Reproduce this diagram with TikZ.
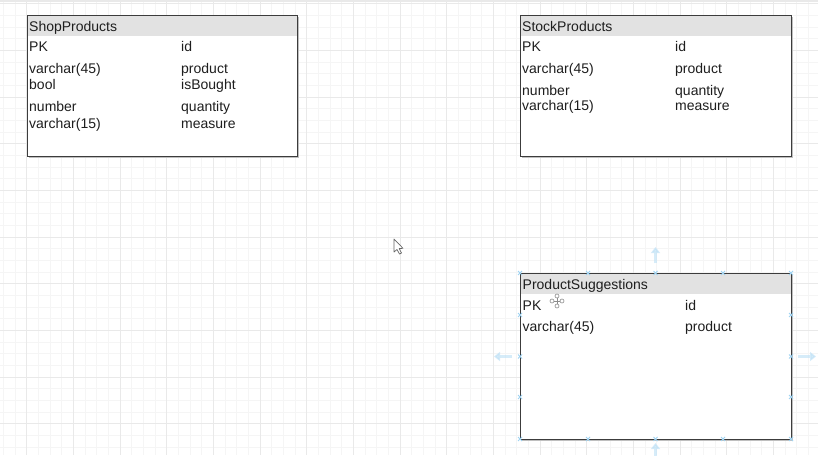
\documentclass[tikz,border=0pt]{standalone}
\usepackage{fontspec}
\setmainfont{Liberation Sans}
\usetikzlibrary{arrows.meta}
\definecolor{gridminor}{HTML}{F5F5F5}
\definecolor{gridmajor}{HTML}{E9E9E9}
\definecolor{hdr}{HTML}{E2E2E2}
\definecolor{frame}{HTML}{3C3C3C}
\definecolor{ink}{HTML}{1E1E1E}
\definecolor{selblue}{HTML}{9FD3F2}
\tikzset{
  txt/.style={anchor=base west, inner sep=0pt, text=ink, font=\fontsize{14}{16}\selectfont},
  tablebox/.style={draw=frame, line width=1.3pt, anchor=north west, inner sep=0pt, minimum width=#1},
  headband/.style={fill=hdr, draw=none},
  handle/.style={draw=selblue, line width=0.9pt},
  selarrow/.style={draw=selblue!70, line width=3pt, -{Triangle[length=6pt,width=9pt]}, opacity=0.6}
}
\begin{document}
\begin{tikzpicture}[x=1pt,y=-1pt]
\useasboundingbox (0,0) rectangle (818,455);
\fill[white] (0,0) rectangle (818,455);
% grid
\foreach \k in {0,...,70} {
  \pgfmathsetmacro{\gx}{3.33+11.667*\k}
  \draw[gridminor, line width=0.8pt] (\gx,0) -- (\gx,455);
}
\foreach \k in {0,...,39} {
  \pgfmathsetmacro{\gy}{3.7+11.667*\k}
  \draw[gridminor, line width=0.8pt] (0,\gy) -- (818,\gy);
}
\foreach \k in {0,...,17} {
  \pgfmathsetmacro{\gx}{26.67+46.67*\k-46.67}
  \draw[gridmajor, line width=0.9pt] (\gx,0) -- (\gx,455);
}
\foreach \k in {0,...,9} {
  \pgfmathsetmacro{\gy}{3.7+46.67*\k}
  \draw[gridmajor, line width=0.9pt] (0,\gy) -- (818,\gy);
}
\fill[gridmajor] (0,0) rectangle (818,2);

% ShopProducts
\fill[black!25] (28.5,16.5) rectangle (298.5,157.5);
\fill[white] (27,15) rectangle (297,156);
\fill[headband] (27,15) rectangle (297,36);
\node[tablebox=270pt, minimum height=141pt] (shop) at (27,15) {};
\node[txt] (shopT) at (29,31) {ShopProducts};
\node[txt] (s1a) at (29,51.5) {PK};
\node[txt] (s1b) at (181,51.5) {id};
\node[txt] (s2a) at (29,73) {varchar(45)};
\node[txt] (s2b) at (181,73) {product};
\node[txt] (s3a) at (29,89.5) {bool};
\node[txt] (s3b) at (181,89.5) {isBought};
\node[txt] (s4a) at (29,111.5) {number};
\node[txt] (s4b) at (181,111.5) {quantity};
\node[txt] (s5a) at (29,128.5) {varchar(15)};
\node[txt] (s5b) at (181,128.5) {measure};

% StockProducts
\fill[black!25] (521.5,16.5) rectangle (792.5,157.5);
\fill[white] (520,15) rectangle (791,156);
\fill[headband] (520,15) rectangle (791,36);
\node[tablebox=271pt, minimum height=141pt] (stock) at (520,15) {};
\node[txt] (stockT) at (522,31) {StockProducts};
\node[txt] (k1a) at (522,51.5) {PK};
\node[txt] (k1b) at (675,51.5) {id};
\node[txt] (k2a) at (522,73) {varchar(45)};
\node[txt] (k2b) at (675,73) {product};
\node[txt] (k3a) at (522,95) {number};
\node[txt] (k3b) at (675,95) {quantity};
\node[txt] (k4a) at (522,110.7) {varchar(15)};
\node[txt] (k4b) at (675,110.7) {measure};

% ProductSuggestions
\fill[black!25] (521.5,274.5) rectangle (792.5,440.5);
\fill[white] (520,273) rectangle (791,439);
\fill[headband] (520,273) rectangle (791,294);
\node[tablebox=271pt, minimum height=166pt] (sugg) at (520,273) {};
\node[txt] (suggT) at (522.5,289) {ProductSuggestions};
\node[txt] (g1a) at (522.5,310.3) {PK};
\node[txt] (g1b) at (685,310.3) {id};
\node[txt] (g2a) at (522.5,331.7) {varchar(45)};
\node[txt] (g2b) at (685,331.7) {product};

% move icon
\begin{scope}[shift={(557,301)}, draw=black!45, line width=0.6pt]
  \draw (0,-5) circle (2pt);
  \draw (0,5) circle (2pt);
  \draw (-5,0) circle (2pt);
  \draw (5,0) circle (2pt);
  \draw (0,-3) -- (0,3) (-3,0) -- (3,0);
\end{scope}

% selection handles
\foreach \hx in {520,588,655.5,723,791} {
  \draw[handle] (\hx-2,271) -- (\hx+2,275) (\hx-2,275) -- (\hx+2,271);
  \draw[handle] (\hx-2,437) -- (\hx+2,441) (\hx-2,441) -- (\hx+2,437);
}
\foreach \hy in {315,356.5,397} {
  \draw[handle] (518,\hy-2) -- (522,\hy+2) (518,\hy+2) -- (522,\hy-2);
  \draw[handle] (789,\hy-2) -- (793,\hy+2) (789,\hy+2) -- (793,\hy-2);
}
\coordinate (upA) at (655.5,263);
\coordinate (upB) at (655.5,247);
\coordinate (dnA) at (655.5,443);
\coordinate (dnB) at (655.5,456);
\coordinate (lfA) at (512,356.5);
\coordinate (lfB) at (494,356.5);
\coordinate (rtA) at (798,356.5);
\coordinate (rtB) at (816,356.5);
\draw[selarrow] (upA) -- (upB);
\draw[selarrow] (dnB) -- (dnA);
\draw[selarrow] (lfA) -- (lfB);
\draw[selarrow] (rtA) -- (rtB);

% mouse cursor
\draw[black!60, fill=white, line width=0.7pt, line join=round]
  (394,239) -- (394,252) -- (397,249.5) -- (399.5,254) -- (401.5,253) -- (399.2,248.6) -- (403,248.3) -- cycle;
\end{tikzpicture}
\end{document}
